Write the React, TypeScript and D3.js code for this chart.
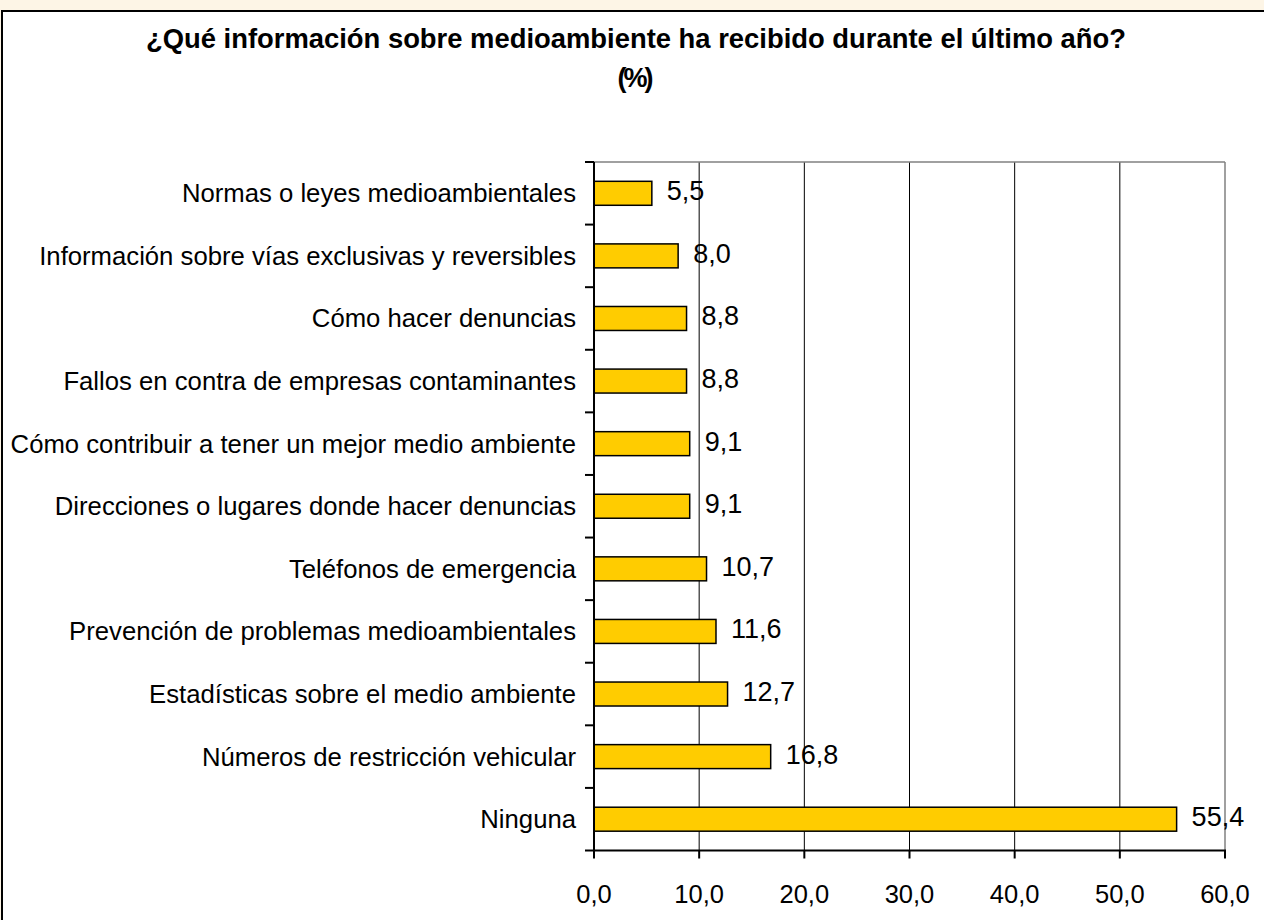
import React from "react";
import * as d3 from "d3";

const categories: string[] = [
  "Normas o leyes medioambientales",
  "Información sobre vías exclusivas y reversibles",
  "Cómo hacer denuncias",
  "Fallos en contra de empresas contaminantes",
  "Cómo contribuir a tener un mejor medio ambiente",
  "Direcciones o lugares donde hacer denuncias",
  "Teléfonos de emergencia",
  "Prevención de problemas medioambientales",
  "Estadísticas sobre el medio ambiente",
  "Números de restricción vehicular",
  "Ninguna",
];

const values: number[] = [5.5, 8.0, 8.8, 8.8, 9.1, 9.1, 10.7, 11.6, 12.7, 16.8, 55.4];

const xTicks: number[] = [0, 10, 20, 30, 40, 50, 60];

const titleLine1 = "¿Qué información sobre medioambiente ha recibido durante el último año?";
const titleLine2 = "(%)";

const W = 1264;
const H = 920;
const FONT = "Arial, 'Liberation Sans', Helvetica, sans-serif";

const fmt = (v: number) => d3.format(".1f")(v).replace(".", ",");

export default function App() {
  const plotLeft = 594;
  const plotRight = 1225;
  const plotTop = 162;
  const plotBottom = 850.5;

  const x = d3.scaleLinear().domain([0, 60]).range([plotLeft, plotRight]);
  const y = d3
    .scaleBand<string>()
    .domain(categories)
    .range([plotTop, plotBottom])
    .paddingInner(0.617)
    .paddingOuter(0.3085);

  const step = y.step();
  const boundaries = d3.range(categories.length + 1).map((i) => plotTop + i * step);

  return (
    <svg
      width={W}
      height={H}
      style={{ position: "absolute", left: 0, top: 0, display: "block" }}
      fontFamily={FONT}
    >
      <rect x={0} y={0} width={W} height={H} fill="#FDF5E6" />
      <rect x={2} y={11} width={W + 20} height={H + 20} fill="#FFFFFF" stroke="#000" strokeWidth={2} />

      {/* title */}
      <text x={636} y={48} textAnchor="middle" fontSize={27.4} fontWeight="bold" fill="#000">
        {titleLine1}
      </text>
      <text x={634} y={87} textAnchor="middle" fontSize={27} fontWeight="bold" fill="#000" letterSpacing={-3}>
        {titleLine2}
      </text>

      {/* gridlines */}
      {xTicks.slice(1, -1).map((t) => (
        <line key={"g" + t} x1={x(t)} x2={x(t)} y1={plotTop} y2={plotBottom} stroke="#000" strokeWidth={1} />
      ))}
      {/* plot border top/right */}
      <line x1={plotLeft} x2={plotRight} y1={plotTop} y2={plotTop} stroke="#808080" strokeWidth={1.5} />
      <line x1={plotRight} x2={plotRight} y1={plotTop} y2={plotBottom} stroke="#808080" strokeWidth={1.5} />

      {/* bars */}
      {categories.map((c, i) => (
        <rect
          key={c}
          x={x(0)}
          y={y(c)!}
          width={x(values[i]) - x(0)}
          height={y.bandwidth()}
          fill="#FFCC00"
          stroke="#000"
          strokeWidth={1.5}
        />
      ))}

      {/* value labels */}
      {categories.map((c, i) => (
        <text
          key={"v" + c}
          x={x(values[i]) + 15}
          y={y(c)! + y.bandwidth() / 2 - 2}
          dominantBaseline="central"
          fontSize={27}
          fill="#000"
        >
          {fmt(values[i])}
        </text>
      ))}

      {/* y axis */}
      <line x1={plotLeft} x2={plotLeft} y1={plotTop} y2={plotBottom + 1} stroke="#000" strokeWidth={2} />
      {boundaries.map((b, i) => (
        <line key={"yt" + i} x1={plotLeft - 9} x2={plotLeft} y1={b} y2={b} stroke="#000" strokeWidth={2} />
      ))}
      {categories.map((c) => (
        <text
          key={"l" + c}
          x={plotLeft - 18}
          y={y(c)! + y.bandwidth() / 2}
          dominantBaseline="central"
          textAnchor="end"
          fontSize={25.7}
          fill="#000"
        >
          {c}
        </text>
      ))}

      {/* x axis */}
      <line x1={plotLeft - 1} x2={plotRight + 1} y1={plotBottom} y2={plotBottom} stroke="#000" strokeWidth={2} />
      {xTicks.map((t) => (
        <g key={"xt" + t}>
          <line x1={x(t)} x2={x(t)} y1={plotBottom} y2={plotBottom + 8} stroke="#000" strokeWidth={2} />
          <text x={x(t)} y={903} textAnchor="middle" fontSize={25.5} fill="#000">
            {fmt(t)}
          </text>
        </g>
      ))}
    </svg>
  );
}
